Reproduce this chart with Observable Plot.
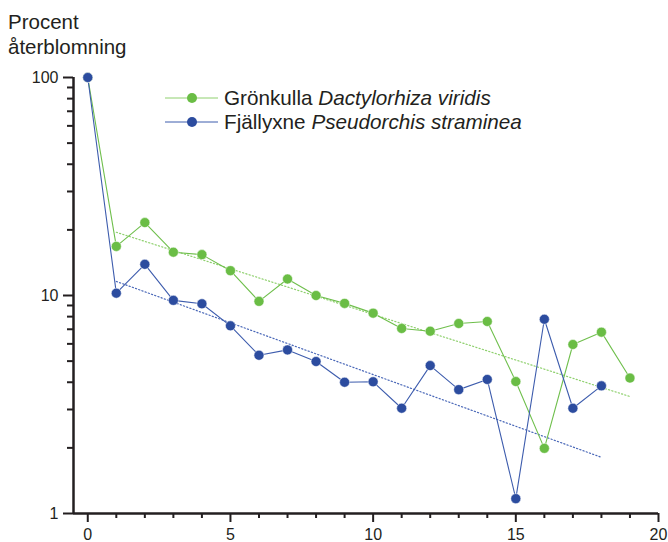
<!DOCTYPE html>
<html>
<head>
<meta charset="utf-8">
<script src="https://cdn.jsdelivr.net/npm/d3@7"></script>
<script src="https://cdn.jsdelivr.net/npm/@observablehq/plot@0.6"></script>
<style>
  html, body { margin: 0; padding: 0; background: #fff; }
  #wrap { position: relative; width: 668px; height: 542px; font-family: "Liberation Sans", Arial, sans-serif; color: #231f20; }
  #title { position: absolute; left: 8px; top: 9px; font-size: 20.5px; line-height: 25px; }
  .leg { position: absolute; left: 165px; height: 24px; display: flex; align-items: center; font-size: 20.7px; white-space: nowrap; }
  .leg span { margin-left: 6px; }
  #chart { position: absolute; left: 0; top: 0; }
</style>
</head>
<body>
<div id="wrap">
  <div id="chart"></div>
  <div id="title">Procent<br>återblomning</div>
  <div class="leg" style="top:86px"><svg width="53" height="24"><line x1="0" x2="53" y1="12" y2="12" stroke="#8fd06e" stroke-width="1"/><circle cx="27" cy="12" r="5" fill="#6abd45"/></svg><span>Grönkulla <i>Dactylorhiza viridis</i></span></div>
  <div class="leg" style="top:110px"><svg width="53" height="24"><line x1="0" x2="53" y1="12" y2="12" stroke="#3d5cad" stroke-width="1"/><circle cx="27" cy="12" r="5" fill="#2c4c9f"/></svg><span>Fjällyxne <i>Pseudorchis straminea</i></span></div>
</div>
<script>
// Years after first flowering
const greenYears = [0,1,2,3,4,5,6,7,8,9,10,11,12,13,14,15,16,17,18,19];
const greenValues = [100,16.8,21.6,15.8,15.4,13.0,9.4,11.9,10.0,9.2,8.3,7.06,6.86,7.44,7.6,4.03,1.99,5.96,6.79,4.18];
const blueYears = [0,1,2,3,4,5,6,7,8,9,10,11,12,13,14,15,16,17,18];
const blueValues = [100,10.25,13.9,9.5,9.16,7.26,5.32,5.63,4.98,4.0,4.02,3.04,4.77,3.7,4.12,1.17,7.78,3.04,3.85];
// Trend lines (exponential fits) – endpoints
const greenTrendYears = [1, 19];
const greenTrendValues = [19.5, 3.44];
const blueTrendYears = [1, 18];
const blueTrendValues = [11.6, 1.81];
// Tick values
const yMajor = [1, 10, 100];
const yMinor = [2,3,4,5,6,7,8,9,20,30,40,50,60,70,80,90];
const xMajor = [0, 5, 10, 15, 20];
const xMinor = [1,2,3,4,6,7,8,9,11,12,13,14,16,17,18,19];

const toRows = (xs, ys) => xs.map((x, i) => ({x, y: ys[i]}));
const green = toRows(greenYears, greenValues);
const blue = toRows(blueYears, blueValues);
const greenTrend = toRows(greenTrendYears, greenTrendValues);
const blueTrend = toRows(blueTrendYears, blueTrendValues);

const ink = "#231f20";
const chart = Plot.plot({
  width: 668,
  height: 542,
  marginTop: 77,
  marginBottom: 29,
  marginLeft: 73,
  marginRight: 10,
  style: {fontFamily: "'Liberation Sans', Arial, sans-serif", fontSize: "16px", color: ink, background: "transparent"},
  x: {domain: [-0.5, 20]},
  y: {type: "log", domain: [1, 100]},
  marks: [
    Plot.axisY(yMinor, {tickSize: 6, strokeWidth: 2, stroke: ink, text: null, label: null}),
    Plot.axisY(yMajor, {tickSize: 10, tickPadding: 5, strokeWidth: 2, stroke: ink, fill: ink, fontSize: 16, tickFormat: d => String(d), label: null}),
    Plot.axisX(xMinor, {tickSize: 5, strokeWidth: 2, stroke: ink, text: null, label: null}),
    Plot.axisX(xMajor, {tickSize: 9, tickPadding: 6, strokeWidth: 2, stroke: ink, fill: ink, fontSize: 16, tickFormat: d => String(d), label: null}),
    Plot.ruleX([-0.5], {stroke: ink, strokeWidth: 2.5}),
    Plot.ruleY([1], {stroke: ink, strokeWidth: 2.5}),
    Plot.line(greenTrend, {x: "x", y: "y", stroke: "#8fd06e", strokeWidth: 1.2, strokeDasharray: "1.2,2.2"}),
    Plot.line(blueTrend, {x: "x", y: "y", stroke: "#4a68b8", strokeWidth: 1.2, strokeDasharray: "1.2,2.2"}),
    Plot.line(green, {x: "x", y: "y", stroke: "#6fbf4c", strokeWidth: 1.1}),
    Plot.line(blue, {x: "x", y: "y", stroke: "#3d5cad", strokeWidth: 1.1}),
    Plot.dot(green, {x: "x", y: "y", r: 5, fill: "#6abd45", stroke: "#fff", strokeWidth: 0.5}),
    Plot.dot(blue, {x: "x", y: "y", r: 5, fill: "#2c4c9f", stroke: "#fff", strokeWidth: 0.5})
  ]
});
document.getElementById("chart").appendChild(chart);
</script>
</body>
</html>
